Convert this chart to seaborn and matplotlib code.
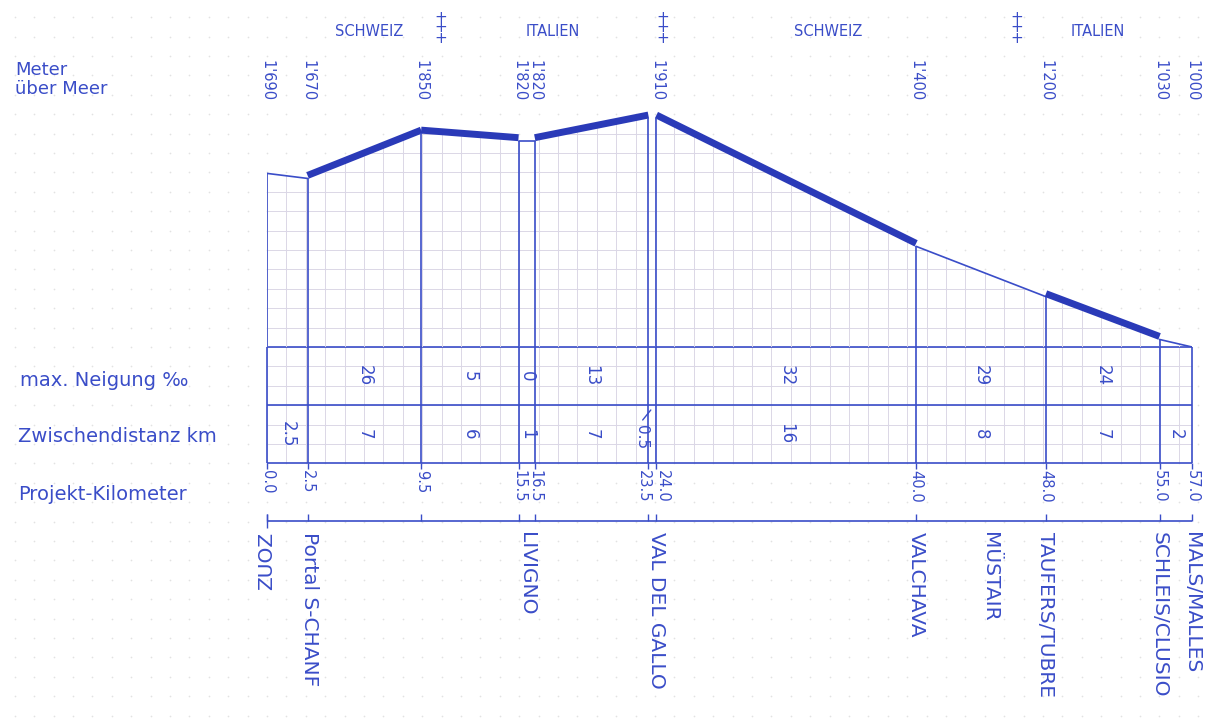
import numpy as np
import pandas as pd
import matplotlib
matplotlib.use('Agg')
import matplotlib.pyplot as plt
import seaborn as sns
from matplotlib import transforms
from matplotlib.patches import Polygon

sns.set_theme(style='white')
plt.rcParams['font.family'] = ['DejaVu Sans']

# Daten: Längenprofil Zuoz - Mals
km = [0.0, 2.5, 9.5, 15.5, 16.5, 23.5, 24.0, 40.0, 48.0, 55.0, 57.0]
hoehe = [1690, 1670, 1850, 1820, 1820, 1910, 1910, 1400, 1200, 1030, 1000]
km_labels = ['0.0', '2.5', '9.5', '15.5', '16.5', '23.5', '24.0', '40.0', '48.0', '55.0', '57.0']

# pro Abschnitt (zwischen zwei Punkten)
abschnitt = ['offen', 'tunnel', 'tunnel', 'offen', 'tunnel', 'bruecke', 'tunnel', 'offen', 'tunnel', 'offen']
neigung = [None, 26, 5, 0, 13, None, 32, 29, 24, None]
distanz = [2.5, 7, 6, 1, 7, 0.5, 16, 8, 7, 2]

stationen = ['ZUOZ', 'Portal S-CHANF', 'LIVIGNO', 'VAL DEL GALLO', 'VALCHAVA',
             'MÜSTAIR', 'TAUFERS/TUBRE', 'SCHLEIS/CLUSIO', 'MALS/MALLES']
station_km = [0.0, 2.6, 16.0, 24.0, 40.0, 44.5, 48.0, 55.0, 57.0]

laender = ['SCHWEIZ', 'ITALIEN', 'SCHWEIZ', 'ITALIEN']
land_km = [6.3, 17.6, 34.6, 51.2]
grenze_km = [10.7, 24.4, 46.2]

BLAU = '#3a4dc8'
DUNKEL = '#2a3ab8'
GITTER = '#dbd7e6'

# Layout in Pixeln
W, H = 1208, 720
x0, x1 = 267, 1192
y_base = 347
skx = (x1 - x0) / 57.0
sky = 0.2516
zelle = 19.4

fig = plt.figure(figsize=(W / 100, H / 100), dpi=100)
fig.patch.set_facecolor('white')

# Hauptachse: x = km, y = Pixelzeilen
ax = fig.add_axes([0, 0, 1, 1])
ax.axis('off')

# Profilachse: x = km, y = Meter über Meer
axp = fig.add_axes([x0 / W, (H - y_base) / H, (x1 - x0) / W, (y_base - 100) / H])
axp.axis('off')
axp.patch.set_alpha(0)

# Papier-Punkte
gx = (np.arange(x0 - zelle * 14, W, zelle) - x0) / skx
gy = np.arange(y_base - zelle * 18, H, zelle)
GX, GY = np.meshgrid(gx, gy)
ax.scatter(GX.ravel(), GY.ravel(), s=1.5, color='#e2e2e2', linewidths=0, zorder=0)

# Gitter unter dem Profil
poly = Polygon(list(zip(km, hoehe)) + [(57, 1000), (0, 1000)], closed=True,
               transform=axp.transData, facecolor='none', edgecolor='none')
axp.add_patch(poly)
vx = np.arange(0, 57.01, zelle / skx)
hy = np.arange(1000, 1960, zelle / sky)
g1 = axp.vlines(vx, 1000, 1960, color=GITTER, lw=0.7, zorder=1)
g2 = axp.hlines(hy, 0, 57, color=GITTER, lw=0.7, zorder=1)
g1.set_clip_path(poly)
g2.set_clip_path(poly)

# Gitter in der Tabelle
ax.vlines(vx, y_base, 463, color=GITTER, lw=0.7, zorder=1)
ax.hlines(np.arange(y_base, 463.1, zelle), 0, 57, color=GITTER, lw=0.7, zorder=1)

# Profil-Linien
rows = []
for i in range(len(km) - 1):
    for j in (i, i + 1):
        rows.append({'km': km[j], 'hoehe': hoehe[j], 'seg': i, 'typ': abschnitt[i]})
df_seg = pd.DataFrame(rows)

sns.lineplot(data=df_seg[df_seg['typ'] == 'offen'], x='km', y='hoehe', units='seg',
             estimator=None, sort=False, color=BLAU, lw=1.2, ax=axp, legend=False)
n_vor = len(axp.lines)
sns.lineplot(data=df_seg[df_seg['typ'] == 'tunnel'], x='km', y='hoehe', units='seg',
             estimator=None, sort=False, color=DUNKEL, lw=5, solid_capstyle='butt',
             ax=axp, legend=False)
versatz = transforms.offset_copy(axp.transData, fig=fig, x=0, y=3, units='dots')
for ln in axp.lines[n_vor:]:
    ln.set_transform(versatz)

axp.vlines(km, 1000, hoehe, color=BLAU, lw=1.2, zorder=3)
axp.set_xlim(0, 57)
axp.set_ylim(1000, 1000 + (y_base - 100) / sky)
axp.set_xlabel('')
axp.set_ylabel('')

# Tabelle
ax.vlines(km, y_base, 463, color=BLAU, lw=1.2, zorder=3)
ax.hlines([y_base, 405, 463], 0, 57, color=BLAU, lw=1.2, zorder=3)
ax.vlines(km, 463, 469, color=BLAU, lw=1.0)
ax.hlines(521, 0, 57, color=BLAU, lw=1.2)
ax.vlines(km, 514, 521, color=BLAU, lw=1.0)
ax.vlines(0, 514, 528, color=BLAU, lw=1.0)

for i in range(len(km) - 1):
    mitte = (km[i] + km[i + 1]) / 2
    if neigung[i] is not None:
        ax.text(mitte, 376, str(neigung[i]), rotation=-90, ha='center', va='center',
                fontsize=12, color=BLAU)
    txt = f'{distanz[i]:g}'
    if km[i + 1] - km[i] < 0.75:
        ax.text(km[i] - 0.45, 437, txt, rotation=-90, ha='center', va='center',
                fontsize=11, color=BLAU)
        ax.plot([km[i] + 0.15, km[i] - 0.35], [410, 420], color=BLAU, lw=1.0)
    else:
        ax.text(mitte, 434, txt, rotation=-90, ha='center', va='center',
                fontsize=12, color=BLAU)

# Kilometer-Beschriftung
verschub = [0.0] * len(km)
for i in range(len(km) - 1):
    if km[i + 1] - km[i] < 1:
        verschub[i] = -0.3
        verschub[i + 1] = 0.35
for k, lbl, v in zip(km, km_labels, verschub):
    ax.text(k + v, 470, lbl, rotation=-90, ha='center', va='top', fontsize=10.5, color=BLAU)

# Höhen-Beschriftung
for i, (k, h) in enumerate(zip(km, hoehe)):
    if i + 1 < len(km) and hoehe[i + 1] == h and km[i + 1] - k < 1:
        continue
    ax.text(k, 60, f"{h // 1000}'{h % 1000:03d}", rotation=-90, ha='center', va='top',
            fontsize=10.5, color=BLAU)

# Stationen
for name, k in zip(stationen, station_km):
    rot = 90 if name == 'ZUOZ' else -90
    ax.text(k, 532, name, rotation=rot, ha='center', va='top', fontsize=14.5, color=BLAU)

# Länder und Grenzen
for name, k in zip(laender, land_km):
    ax.text(k, 32, name, ha='center', va='center', fontsize=10.5, color=BLAU)
for k in grenze_km:
    ax.text(k, 28, '+\n+\n+', ha='center', va='center', fontsize=11,
            linespacing=0.6, color=BLAU)

ax.set_xlim(-x0 / skx, (W - x0) / skx)
ax.set_ylim(H, 0)

# Zeilen-Titel links
fig.text(15 / W, 1 - 70 / H, 'Meter', fontsize=13, va='center', color=BLAU)
fig.text(15 / W, 1 - 89 / H, 'über Meer', fontsize=13, va='center', color=BLAU)
fig.text(20 / W, 1 - 380 / H, 'max. Neigung ‰', fontsize=14, va='center', color=BLAU)
fig.text(18 / W, 1 - 437 / H, 'Zwischendistanz km', fontsize=14, va='center', color=BLAU)
fig.text(18 / W, 1 - 494 / H, 'Projekt-Kilometer', fontsize=14, va='center', color=BLAU)

fig.savefig('out.png', dpi=100)
